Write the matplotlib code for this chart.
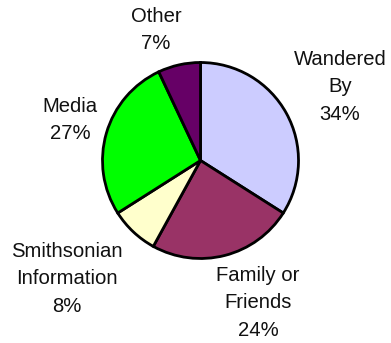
import matplotlib
matplotlib.use("Agg")
import matplotlib.pyplot as plt

# How visitors heard about the exhibit
categories = ["Wandered\nBy", "Family or\nFriends", "Smithsonian\nInformation", "Media", "Other"]
percentages = [34, 24, 8, 27, 7]
colors = ["#CCCCFF", "#993366", "#FFFFCC", "#00FF00", "#660066"]

# label anchor points (pixels from top-left) for each slice's caption
label_xy = [(340, 87), (258, 303), (67, 279), (70, 120), (156, 30)]

W, H = 391, 343
fig = plt.figure(figsize=(W / 100, H / 100), dpi=100)
ax = fig.add_axes([0, 0, 1, 1])
ax.set_xlim(0, W)
ax.set_ylim(0, H)
ax.set_aspect("equal")
ax.axis("off")

ax.pie(percentages, colors=colors, startangle=90, counterclock=False,
       center=(200.5, H - 160.5), radius=98,
       wedgeprops=dict(edgecolor="black", linewidth=2.0))

for name, pct, (x, y) in zip(categories, percentages, label_xy):
    ax.text(x, H - y, f"{name}\n{pct}%", ha="center", va="center",
            fontsize=14.6, family=["Liberation Sans", "DejaVu Sans"],
            color="#111111", linespacing=1.56)

ax.set_xlim(0, W)
ax.set_ylim(0, H)
fig.savefig("out.png", dpi=100)
